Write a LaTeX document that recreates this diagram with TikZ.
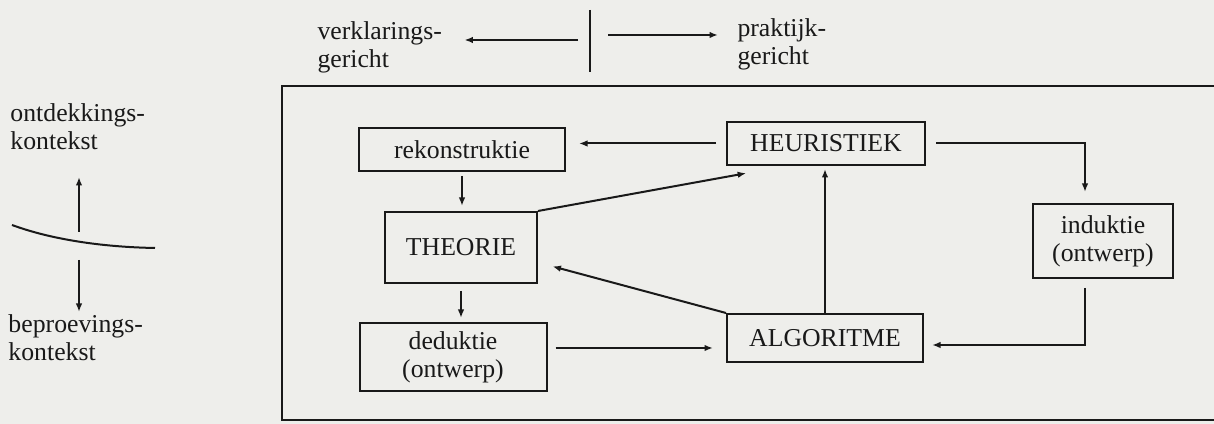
\documentclass[tikz,border=0pt]{standalone}
\usepackage{fontspec}
\setmainfont{Liberation Serif}
\usetikzlibrary{arrows.meta}
\definecolor{paper}{RGB}{238,238,235}
\definecolor{ink}{RGB}{25,25,25}

\begin{document}
\begin{tikzpicture}[x=0.4pt,y=-0.4pt,
	every node/.style={font=\fontsize{10.3}{11.2}\selectfont, text=ink},
	box/.style={draw=ink, line width=0.8pt, inner sep=0pt, align=center},
	lbl/.style={inner sep=0pt, align=left},
	ln/.style={draw=ink, line width=0.8pt},
	arr/.style={ln, -{Latex[length=3.4pt,width=2.6pt]}}]

\fill[paper] (0,0) rectangle (1214,424);
\useasboundingbox (0,0) rectangle (1214,424);

\node[lbl, anchor=west] (verkl) at (317,47) {verklarings-\\gericht};
\node[lbl, anchor=west] (prak) at (737,44) {praktijk-\\gericht};
\coordinate (sepT) at (590,10);
\coordinate (sepB) at (590,72);
\coordinate (lst) at (578,40);
\coordinate (rst) at (608,35);
\draw[ln] (sepT) -- (sepB);
\draw[arr, shorten >=8.8pt] (lst) -- (verkl.east |- lst);
\draw[arr, shorten >=7.6pt] (rst) -- (prak.west |- rst);

\node[lbl, anchor=west] (ontd) at (10,127) {ontdekkings-\\kontekst};
\node[lbl, anchor=west] (bepr) at (8,338) {beproevings-\\kontekst};
\coordinate (cL) at (12,225);
\coordinate (cC1) at (50,239);
\coordinate (cC2) at (100,247);
\coordinate (cR) at (155,248);
\coordinate (upS) at (79,232);
\coordinate (upT) at (79,177);
\coordinate (dnS) at (79,260);
\coordinate (dnT) at (79,312);
\draw[ln] (cL) .. controls (cC1) and (cC2) .. (cR);
\draw[arr] (upS) -- (upT);
\draw[arr] (dnS) -- (dnT);

\draw[ln] (282,86) rectangle (1240,420);

\node[box, minimum width=82.4pt, minimum height=17.2pt] (rek) at (462,149.5) {rekonstruktie};
\node[box, minimum width=60.8pt, minimum height=28.4pt] (theo) at (461,247.5) {THEORIE};
\node[box, minimum width=74.8pt, minimum height=27.2pt] (ded) at (453,357) {deduktie\\(ontwerp)};
\node[box, minimum width=79.2pt, minimum height=17.2pt] (heur) at (826,143.5) {HEURISTIEK};
\node[box, minimum width=78.4pt, minimum height=19.2pt] (alg) at (825,338) {ALGORITME};
\node[box, minimum width=56pt, minimum height=29.6pt] (ind) at (1103,241) {induktie\\(ontwerp)};

\draw[arr, shorten <=4pt, shorten >=5.2pt] (heur.west) -- (heur.west -| rek.east);
\draw[arr, shorten <=1.6pt, shorten >=2pt] (rek.south) -- (rek.south |- theo.north);
\draw[arr, shorten <=2.8pt, shorten >=1.6pt] (theo.south) -- (theo.south |- ded.north);
\draw[arr, shorten <=3.2pt, shorten >=5.2pt] ([yshift=3.6pt]ded.east) -- ([yshift=3.6pt]ded.east -| alg.west);
\draw[arr, shorten >=1.2pt] (alg.north) -- (alg.north |- heur.south);
\draw[arr, shorten >=6pt] (alg.north west) -- ([yshift=-6pt]theo.east);
\draw[arr, shorten >=16.2pt] (theo.north east) -- ([xshift=24pt]heur.south west);
\draw[arr] ([xshift=4pt]heur.east) -| ([xshift=-7.2pt,yshift=4.4pt]ind.north);
\draw[arr] ([xshift=-7.2pt,yshift=-3.6pt]ind.south) |- ([xshift=3.2pt,yshift=-2.8pt]alg.east);

\end{tikzpicture}
\end{document}
